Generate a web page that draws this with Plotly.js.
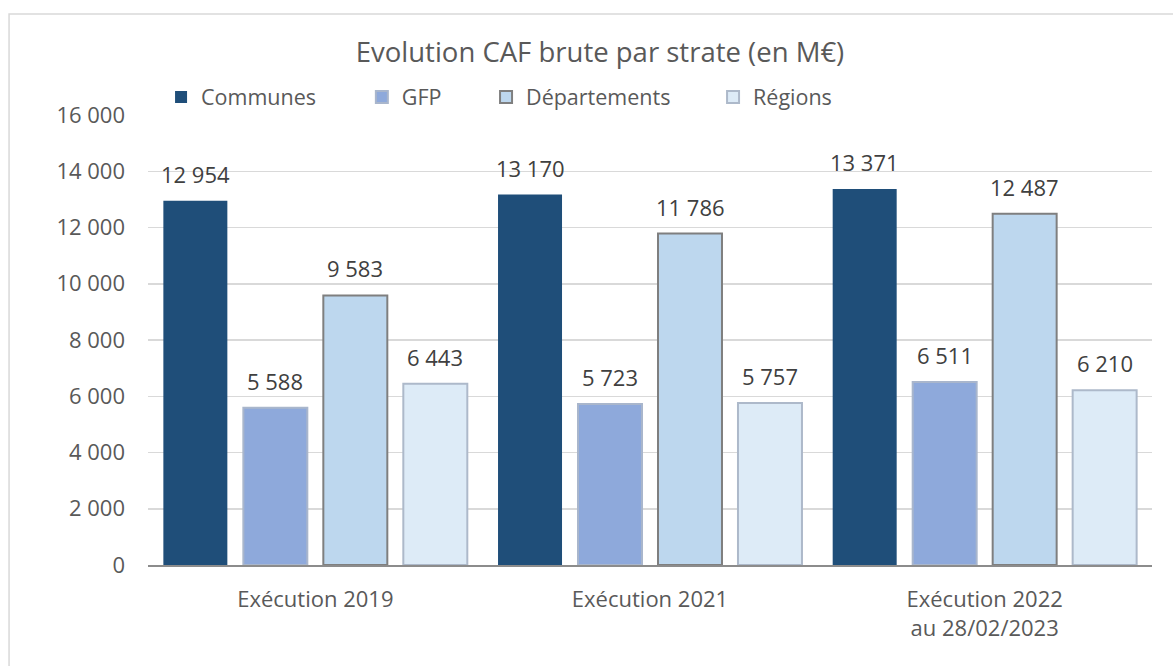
<!DOCTYPE html>
<html>
<head>
<meta charset="utf-8">
<script src="https://cdn.plot.ly/plotly-3.0.1.min.js"></script>
<style>html,body{margin:0;padding:0;background:#fff;} #chart{width:1173px;height:666px;}</style>
</head>
<body>
<div id="chart"></div>
<script>
const categories = ["Exécution 2019", "Exécution 2021", "Exécution 2022<br>au 28/02/2023"];
const seriesNames = ["Communes", "GFP", "Départements", "Régions"];
const communes = [12954, 13170, 13371];
const gfp = [5588, 5723, 6511];
const departements = [9583, 11786, 12487];
const regions = [6443, 5757, 6210];
const yTicks = [0, 2000, 4000, 6000, 8000, 10000, 12000, 14000, 16000];

const seriesValues = [communes, gfp, departements, regions];
const fills = ["#1F4E79", "#8EA9DB", "#BDD7EE", "#DDEBF7"];
const outlines = ["#1F4E79", "#A9B6CC", "#7F7F7F", "#ADB9CA"];
const legendIds = ["legend", "legend2", "legend3", "legend4"];
const legendX = [0.0130, 0.2130, 0.3367, 0.5628];
const font = "Open Sans, Noto Sans, sans-serif";

const traces = seriesNames.map((name, i) => ({
  type: "bar",
  name: name,
  x: categories,
  y: seriesValues[i],
  legend: legendIds[i],
  marker: {color: fills[i], line: {color: outlines[i], width: i === 0 ? 0 : 2}},
  hoverinfo: "skip"
}));

function fmt(v) {
  return String(v).replace(/\B(?=(\d{3})+(?!\d))/g, " ");
}

const slotPx = 80;
const annotations = [];
seriesValues.forEach((vals, i) => {
  vals.forEach((v, j) => {
    annotations.push({
      x: categories[j], y: v, xref: "x", yref: "y",
      text: fmt(v), showarrow: false,
      xshift: (i - 1.5) * slotPx, yshift: 27, yanchor: "middle",
      font: {family: font, size: 22, color: "#404040"}
    });
  });
});

const layout = {
  width: 1173, height: 666,
  margin: {l: 148, r: 21, t: 115, b: 101},
  paper_bgcolor: "#fff", plot_bgcolor: "#fff",
  separators: ", ",
  title: {text: "Evolution CAF brute par strate (en M€)", x: 0.5115, xanchor: "center", y: 0.922, yanchor: "middle",
          font: {family: font, size: 27.5, color: "#595959"}},
  barmode: "group",
  bargap: 0.044,
  bargroupgap: 0.2,
  showlegend: true,
  xaxis: {type: "category", showline: true, linecolor: "#8C8C8C", linewidth: 1.5, ticks: "",
          ticklabelstandoff: 14,
          tickfont: {family: font, size: 22, color: "#595959"}, fixedrange: true},
  yaxis: {range: [0, 16000], tickvals: yTicks, ticktext: yTicks.map(fmt), showgrid: true, gridcolor: "#D9D9D9",
          gridwidth: 1.5, zeroline: false, showline: false, ticks: "", ticklen: 0, ticklabelstandoff: 22,
          tickfont: {family: font, size: 22, color: "#595959"}, fixedrange: true},
  annotations: annotations,
  shapes: [{type: "rect", xref: "paper", yref: "paper", x0: -0.1384, x1: 1.3, y0: -0.35, y1: 1.2244,
            line: {color: "#D9D9D9", width: 1.5}, fillcolor: "rgba(0,0,0,0)", layer: "below"}]
};
legendIds.forEach((id, i) => {
  layout[id] = {orientation: "h", x: legendX[i], xanchor: "left", y: 1.04, yanchor: "middle",
                bgcolor: "rgba(0,0,0,0)", font: {family: font, size: 21.5, color: "#595959"}};
});

Plotly.newPlot("chart", traces, layout, {displayModeBar: false, staticPlot: true});
</script>
</body>
</html>
